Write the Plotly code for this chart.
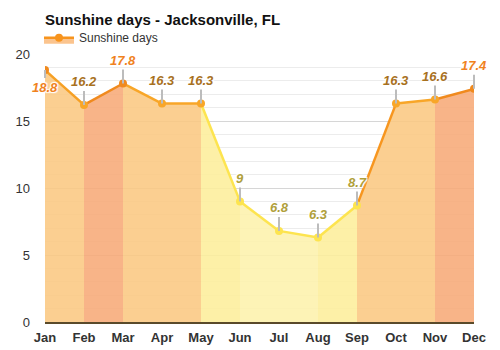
import plotly.graph_objects as go

months = ["Jan", "Feb", "Mar", "Apr", "May", "Jun", "Jul", "Aug", "Sep", "Oct", "Nov", "Dec"]
sunshine = [18.8, 16.2, 17.8, 16.3, 16.3, 9, 6.8, 6.3, 8.7, 16.3, 16.6, 17.4]

# styles
band_colors = ["rgba(251,200,130,0.88)", "rgba(247,170,120,0.88)", "rgba(251,200,130,0.88)",
               "rgba(251,200,130,0.88)", "rgba(253,238,155,0.88)", "rgba(253,241,172,0.88)",
               "rgba(253,241,172,0.88)", "rgba(253,238,155,0.88)", "rgba(251,200,130,0.88)",
               "rgba(251,200,130,0.88)", "rgba(247,170,120,0.88)"]
line_colors = ["#f6a024", "#f08a1e", "#f8a628", "#f8a628", "#fde44f", "#fde44f",
               "#fde44f", "#fde44f", "#f7961f", "#f8a628", "#f08a1e"]
marker_colors = ["#f08a1e", "#f8a628", "#f08a1e", "#f8a628", "#f8a628", "#fde44f",
                 "#fde44f", "#fde44f", "#fde44f", "#f8a628", "#f8a628", "#f08a1e"]
label_colors = ["#f0821e", "#a8711e", "#f0821e", "#a8711e", "#a8711e", "#b0a03a",
                "#b0a03a", "#b0a03a", "#b0a03a", "#a8711e", "#a8711e", "#f0821e"]

fig = go.Figure()
xs = list(range(len(months)))
for i in range(len(months) - 1):
    fig.add_trace(go.Scatter(
        x=[xs[i], xs[i + 1]], y=[sunshine[i], sunshine[i + 1]],
        mode="lines", fill="tozeroy", fillcolor=band_colors[i],
        line=dict(color=line_colors[i], width=2.5),
        showlegend=False, hoverinfo="skip"))

fig.add_trace(go.Scatter(
    x=xs, y=sunshine, mode="markers",
    marker=dict(color=marker_colors, size=8),
    showlegend=False))

# legend entry
fig.add_trace(go.Scatter(
    x=[None], y=[None], mode="lines+markers", name="Sunshine days",
    fill="tozeroy", fillcolor="rgba(251,190,130,0.9)",
    line=dict(color="#f7941d", width=2.5), marker=dict(color="#f7941d", size=8)))

for i, v in enumerate(sunshine):
    below = (i == 0)
    fig.add_annotation(
        x=xs[i], y=v, text=str(v), showarrow=True, arrowhead=0, arrowwidth=2,
        arrowcolor="#bcbcbc", ax=0, ay=(17 if below else -23), standoff=0,
        font=dict(family="Liberation Sans, Arial, sans-serif", size=13,
                  color=label_colors[i], weight="bold", style="italic",
                  shadow="1px 1px 1px #fff, -1px -1px 1px #fff, 1px -1px 1px #fff, -1px 1px 1px #fff"))

fig.update_layout(
    width=500, height=350,
    margin=dict(l=45, r=26, t=54, b=28),
    paper_bgcolor="white", plot_bgcolor="white",
    font=dict(family="Liberation Sans, Arial, sans-serif", color="#333"),
    title=dict(text="<b>Sunshine days - Jacksonville, FL</b>", x=45 / 500, xanchor="left",
               y=1 - 20 / 350, yanchor="middle", font=dict(size=15, color="#111")),
    legend=dict(x=-0.014, xanchor="left", y=1.115, yanchor="top", orientation="h",
                font=dict(size=12, color="#333"), bgcolor="rgba(0,0,0,0)",
                itemwidth=30),
    xaxis=dict(range=[0, 11], tickvals=xs, ticktext=months, showgrid=False,
               showline=True, linecolor="#5a4a2a", linewidth=1.5,
               tickfont=dict(size=13, color="#333", weight="bold"), zeroline=False,
               ticks="", ticklabelstandoff=3, automargin=False, fixedrange=True),
    yaxis=dict(range=[0, 20], dtick=5, tick0=0, showgrid=True, gridcolor="#d6d6d6",
               minor=dict(dtick=1, showgrid=True, gridcolor="#ececec"),
               zeroline=False, tickfont=dict(size=13, color="#333"), ticks="",
               ticklabelstandoff=14, automargin=False, fixedrange=True),
)

fig.write_html("out.html")
